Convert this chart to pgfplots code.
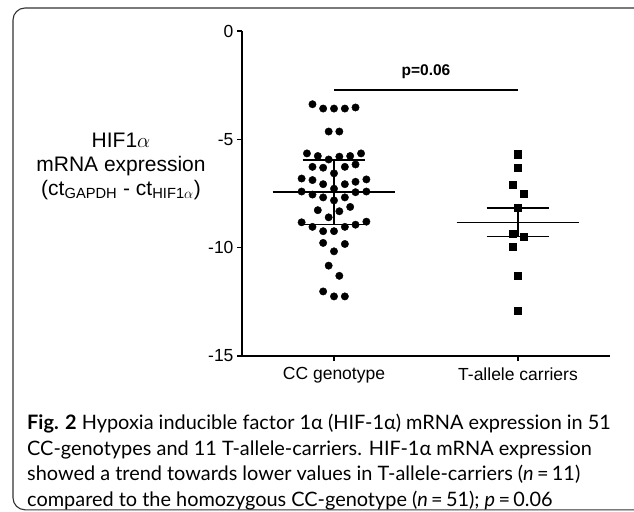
\documentclass[border=0pt]{standalone}
\usepackage{fontspec}
\setmainfont{Liberation Sans}
\newfontfamily\capfont{Lato}
\usepackage{pgfplots}
\pgfplotsset{compat=1.18}

\begin{document}
\begin{tikzpicture}[x=1pt,y=1pt]
\useasboundingbox (0,0) rectangle (634,511);
\begin{scope}
  \clip (0,0) rectangle (634,511);
  \draw[line width=1.1pt, rounded corners=12pt, black!80]
    (660,503) -- (13,503) -- (13,1.2) -- (660,1.2);
\end{scope}

\begin{axis}[
  scale only axis,
  width=368pt, height=325pt,
  at={(242pt,155pt)}, anchor=south west,
  xmin=0.5, xmax=2.5, ymin=-15, ymax=0,
  axis x line*=bottom, axis y line*=left,
  axis line style={line width=1.6pt},
  xtick={1,2},
  xticklabels={CC genotype, T-allele carriers},
  ytick={0,-5,-10,-15},
  tick align=outside,
  major tick length=5pt,
  tick style={line width=1.4pt, black},
  tick label style={font=\fontsize{17.5}{20}\selectfont},
  xticklabel style={yshift=-3pt},
  /pgf/number format/assume math mode=true,
  clip=false,
]
% CC genotype, n = 51
\addplot[only marks, mark=*, mark size=3.7pt, black] coordinates {
  (0.883,-3.38) (0.941,-3.58) (1.000,-3.58) (1.059,-3.58) (1.117,-3.53)
  (0.971,-4.64) (1.029,-4.64)
  (0.853,-5.65) (0.912,-5.77) (0.971,-5.93) (1.029,-5.80) (1.088,-5.77) (1.147,-5.65)
  (0.883,-6.27) (0.941,-6.31) (1.059,-6.27) (1.117,-6.16)
  (1.000,-6.57)
  (0.824,-6.81) (0.883,-6.88) (0.941,-7.07) (1.059,-7.07) (1.117,-6.96) (1.176,-6.85)
  (1.000,-7.28)
  (0.824,-7.41) (0.883,-7.55) (1.117,-7.44) (1.176,-7.41)
  (0.941,-7.68) (1.059,-7.68)
  (1.000,-7.82)
  (0.912,-8.27) (1.029,-8.32) (1.088,-8.12)
  (0.971,-8.60)
  (0.824,-8.83) (0.883,-9.04) (0.941,-9.24) (1.000,-9.24) (1.059,-9.04) (1.117,-8.94) (1.176,-8.80)
  (0.941,-9.78) (1.059,-9.83)
  (1.000,-10.17)
  (0.971,-10.83)
  (1.029,-11.30)
  (0.941,-12.02) (1.000,-12.25) (1.059,-12.25)
};
% T-allele carriers
\addplot[only marks, mark=square*, mark size=3.6pt, black] coordinates {
  (2.000,-5.69) (2.000,-6.31) (1.970,-7.11) (2.030,-7.50) (2.000,-8.16)
  (1.970,-9.35) (2.030,-9.48) (1.970,-9.97) (2.000,-11.30) (2.000,-12.90)
};
% mean and error bars
\addplot[line width=1.5pt, black] coordinates {(0.667,-7.42) (1.333,-7.42)};
\addplot[line width=1.5pt, black] coordinates {(0.83,-5.96) (1.17,-5.96)};
\addplot[line width=1.5pt, black] coordinates {(0.83,-8.94) (1.17,-8.94)};
\addplot[line width=1.5pt, black] coordinates {(1,-5.96) (1,-8.94)};
\addplot[line width=1.5pt, black] coordinates {(1.667,-8.83) (2.333,-8.83)};
\addplot[line width=1.5pt, black] coordinates {(1.83,-8.18) (2.17,-8.18)};
\addplot[line width=1.5pt, black] coordinates {(1.83,-9.48) (2.17,-9.48)};
\addplot[line width=1.5pt, black] coordinates {(2,-8.18) (2,-9.48)};
% significance bar
\addplot[line width=1.6pt, black] coordinates {(1,-2.73) (2,-2.73)};
\node[font=\bfseries\fontsize{15.5}{18}\selectfont] at (axis cs:1.5,-1.9) {p=0.06};
\end{axis}

\node[align=center, font=\fontsize{21}{24}\selectfont] at (121,345)
  {HIF1$\alpha$\\mRNA expression\\(ct\textsubscript{GAPDH} - ct\textsubscript{HIF1$\alpha$})};

\node[anchor=north west, align=left, inner sep=0pt,
      font=\capfont\fontsize{19.9}{25.5}\selectfont] at (27,97) {%
  \textbf{Fig. 2} Hypoxia inducible factor 1α (HIF-1α) mRNA expression in 51\\
  CC-genotypes and 11 T-allele-carriers. HIF-1α mRNA expression\\
  showed a trend towards lower values in T-allele-carriers (\textit{n}\,=\,11)\\
  compared to the homozygous CC-genotype (\textit{n}\,=\,51); \textit{p}\,=\,0.06};
\end{tikzpicture}
\end{document}
